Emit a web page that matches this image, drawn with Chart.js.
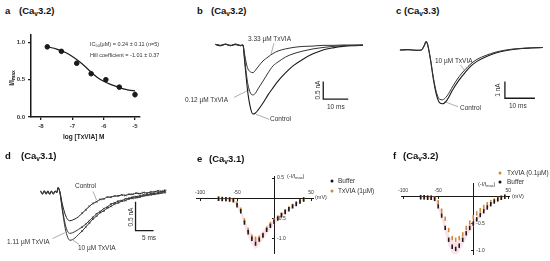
<!DOCTYPE html>
<html>
<head>
<meta charset="utf-8">
<script src="https://cdn.jsdelivr.net/npm/chart.js@4"></script>
<style>
  body { margin: 0; background: #fff; }
  #fig { position: relative; width: 550px; height: 261px; overflow: hidden; font-family: Arial, "Liberation Sans", sans-serif; color: #222; }
  #fig canvas { position: absolute; }
  .t { position: absolute; white-space: nowrap; line-height: 1; transform: translateY(-50%); }
  .ttl { font-weight: bold; font-size: 9.5px; color: #111; }
  .lbl { font-size: 6.5px; color: #333; }
  .sm { font-size: 5.5px; color: #333; }
  .rot { transform: translate(-50%, -50%) rotate(-90deg); }
  .dot { position: absolute; width: 3px; height: 3px; border-radius: 50%; transform: translate(-50%, -50%); }
  sub { font-size: 70%; vertical-align: -0.25em; line-height: 0; }
</style>
</head>
<body>
<div id="fig">
  <canvas id="chartA" width="150" height="120" style="left:0;top:28px"></canvas>
  <canvas id="chartB" width="185" height="105" style="left:185px;top:25px"></canvas>
  <canvas id="chartC" width="180" height="105" style="left:370px;top:25px"></canvas>
  <canvas id="chartD" width="185" height="101" style="left:0;top:160px"></canvas>
  <canvas id="chartE" width="185" height="96" style="left:185px;top:165px"></canvas>
  <canvas id="chartF" width="180" height="96" style="left:370px;top:165px"></canvas>

  <!-- panel titles -->
  <div class="t ttl" style="left:5px;top:11px">a</div>
  <div class="t ttl" style="left:19px;top:11px">(Ca<sub>v</sub>3.2)</div>
  <div class="t ttl" style="left:197px;top:11px">b</div>
  <div class="t ttl" style="left:211px;top:11px">(Ca<sub>v</sub>3.2)</div>
  <div class="t ttl" style="left:396px;top:11px">c</div>
  <div class="t ttl" style="left:404px;top:11px">(Ca<sub>v</sub>3.3)</div>
  <div class="t ttl" style="left:5px;top:156px">d</div>
  <div class="t ttl" style="left:21px;top:156px">(Ca<sub>v</sub>3.1)</div>
  <div class="t ttl" style="left:197px;top:159px">e</div>
  <div class="t ttl" style="left:209px;top:159px">(Ca<sub>v</sub>3.1)</div>
  <div class="t ttl" style="left:393px;top:156px">f</div>
  <div class="t ttl" style="left:403px;top:156px">(Ca<sub>v</sub>3.2)</div>

  <!-- a -->
  <div class="t sm" style="left:90px;top:45px">IC<sub>50</sub>(µM) = 0.24 ± 0.11 (n=5)</div>
  <div class="t sm" style="left:90px;top:56px">Hill coefficient = -1.01 ± 0.37</div>
  <div class="t rot" style="left:11px;top:78px;font-size:7px;font-weight:bold">I/I<sub>max</sub></div>
  <div class="t" style="left:63px;top:137px;font-size:6.5px;font-weight:bold">log [TxVIA] M</div>

  <!-- b -->
  <div class="t lbl" style="left:248px;top:39px">3.33 µM TxVIA</div>
  <div class="t lbl" style="left:185px;top:100px">0.12 µM TxVIA</div>
  <div class="t lbl" style="left:270px;top:119px">Control</div>
  <div class="t lbl rot" style="left:318px;top:90px">0.5 nA</div>
  <div class="t lbl" style="left:327px;top:107px">10 ms</div>

  <!-- c -->
  <div class="t lbl" style="left:435px;top:61px">10 µM TxVIA</div>
  <div class="t lbl" style="left:460px;top:108px">Control</div>
  <div class="t lbl rot" style="left:498px;top:90px">1 nA</div>
  <div class="t lbl" style="left:509px;top:106px">10 ms</div>

  <!-- d -->
  <div class="t lbl" style="left:75px;top:186px">Control</div>
  <div class="t lbl" style="left:7px;top:242px">1.11 µM TxVIA</div>
  <div class="t lbl" style="left:78px;top:248px">10 µM TxVIA</div>
  <div class="t lbl rot" style="left:131px;top:217px">0.5 nA</div>
  <div class="t lbl" style="left:142px;top:238px">5 ms</div>

  <!-- e -->
  <div class="t sm" style="left:287px;top:177px">(-I/I<sub>max</sub>)</div>
  <div class="t sm" style="left:315px;top:198px">(mV)</div>
  <div class="dot" style="left:332px;top:181px;background:#111"></div>
  <div class="t lbl" style="left:338px;top:181px">Buffer</div>
  <div class="dot" style="left:332px;top:191px;background:#d08a35"></div>
  <div class="t lbl" style="left:338px;top:191px">TxVIA (1µM)</div>

  <!-- f -->
  <div class="t sm" style="left:478px;top:185px">(-I/I<sub>max</sub>)</div>
  <div class="t sm" style="left:512px;top:197px">(mV)</div>
  <div class="dot" style="left:500px;top:173px;background:#d08a35"></div>
  <div class="t lbl" style="left:507px;top:173px">TxVIA (0.1µM)</div>
  <div class="dot" style="left:500px;top:182px;background:#111"></div>
  <div class="t lbl" style="left:507px;top:182px">Buffer</div>
</div>

<script>
// ---- data ----
// a: concentration-response
const aLogConc = [-7.8, -7.35, -6.86, -6.4, -5.93, -5.5, -5.0];
const aResp = [0.94, 0.88, 0.72, 0.58, 0.50, 0.40, 0.30];
const aSem = [0.01, 0.01, 0.03, 0.02, 0.03, 0.02, 0.04];
const aFitX = [-7.8, -7.5, -7.2, -7.0, -6.8, -6.6, -6.4, -6.2, -6.0, -5.8, -5.6, -5.4, -5.2, -5.0];
const aFitY = [0.94, 0.91, 0.86, 0.81, 0.75, 0.68, 0.60, 0.53, 0.48, 0.44, 0.41, 0.38, 0.36, 0.35];
const aTicksX = [-8, -7, -6, -5];
const aTicksY = [0, 0.5, 1.0];

// b: Cav3.2 current traces (ms, nA)
const bTime = [-11, -9, -7, -5, -3, -1, 0, 0.5, 1, 1.5, 2, 3, 4, 5, 6, 8, 10, 12, 14, 17, 20, 24, 28, 32, 36, 40, 44, 48];
const bControl = [0.02, -0.02, 0.03, -0.01, 0.02, -0.02, 0, -0.34, -0.71, -1.07, -1.38, -1.78, -1.95, -1.92, -1.84, -1.64, -1.41, -1.21, -1.02, -0.79, -0.59, -0.40, -0.25, -0.14, -0.08, -0.04, -0.02, -0.01];
const bLow = [0.01, -0.02, 0.02, -0.02, 0.03, -0.01, 0, -0.28, -0.62, -0.90, -1.13, -1.36, -1.41, -1.36, -1.24, -1.02, -0.79, -0.59, -0.48, -0.34, -0.25, -0.17, -0.11, -0.07, -0.04, -0.02, -0.01, 0];
const bHigh = [0.02, -0.01, 0.02, -0.02, 0.01, -0.02, 0, -0.20, -0.40, -0.57, -0.68, -0.76, -0.78, -0.71, -0.62, -0.45, -0.34, -0.24, -0.17, -0.11, -0.07, -0.04, -0.03, -0.01, -0.01, 0, 0, 0];

// c: Cav3.3 current traces (ms, nA)
const cTime = [-7.7, -5, -2, -0.5, 0.5, 1, 1.5, 2.5, 3.5, 4.5, 5.5, 6.5, 8, 10, 12, 14, 16, 18, 21, 24, 27, 30, 33, 36, 40];
const cControl = [0, 0.02, -0.02, 0, 0.3, 0.5, 0.35, -0.6, -1.8, -2.7, -3.15, -3.22, -3.0, -2.35, -1.8, -1.35, -0.95, -0.68, -0.4, -0.2, -0.06, 0.03, 0.09, 0.12, 0.15];
const cToxin = [0, 0.02, -0.02, 0, 0.3, 0.5, 0.35, -0.55, -1.7, -2.55, -2.95, -2.98, -2.75, -2.15, -1.6, -1.18, -0.82, -0.56, -0.32, -0.14, -0.02, 0.06, 0.1, 0.13, 0.15];

// d: Cav3.1 current traces (ms, nA)
const dTime = [-4.5, -4, -3.5, -3, -2.5, -2, -1.5, -1, -0.5, 0, 0.3, 0.8, 1.5, 2.3, 3, 3.6, 4.3, 5, 6, 7, 8, 9, 10, 11, 12, 13, 14, 15, 16, 17, 18, 19, 20, 21, 22, 23, 24, 25, 26, 27, 28, 29, 30];
const dControl = [0.02, -0.03, 0.03, -0.02, 0.03, -0.03, 0.02, -0.02, 0.03, 0, 0.09, 0.02, -0.2, -0.38, -0.47, -0.49, -0.48, -0.46, -0.42, -0.36, -0.30, -0.24, -0.19, -0.16, -0.12, -0.11, -0.08, -0.08, -0.06, -0.06, -0.04, -0.05, -0.03, -0.03, -0.01, -0.02, 0, -0.01, 0.01, 0.01, 0.03, 0.02, 0.04];
const dMid = [0.03, -0.02, 0.02, -0.03, 0.02, -0.02, 0.03, -0.03, 0.02, 0, 0.08, 0.01, -0.28, -0.55, -0.68, -0.71, -0.70, -0.68, -0.64, -0.60, -0.55, -0.49, -0.43, -0.37, -0.33, -0.28, -0.25, -0.20, -0.18, -0.15, -0.14, -0.11, -0.10, -0.08, -0.07, -0.06, -0.04, -0.04, -0.02, -0.02, 0, 0.01, 0.02];
const dHigh = [0.02, -0.02, 0.03, -0.02, 0.02, -0.03, 0.02, -0.02, 0.02, 0, 0.08, 0.01, -0.30, -0.62, -0.78, -0.83, -0.82, -0.79, -0.73, -0.67, -0.60, -0.53, -0.46, -0.41, -0.35, -0.32, -0.27, -0.24, -0.20, -0.18, -0.15, -0.14, -0.11, -0.10, -0.09, -0.08, -0.06, -0.05, -0.04, -0.03, -0.02, -0.01, 0];

// e: Cav3.1 I-V (mV, -I/Imax)
const eVolt = [-75, -70, -65, -60, -55, -50, -45, -40, -35, -30, -25, -20, -15, -10, -5, 0, 5, 10, 15, 20, 25, 30, 35, 40];
const eBuffer = [-0.01, -0.02, -0.02, -0.03, -0.05, -0.17, -0.32, -0.60, -0.84, -1.00, -1.12, -1.02, -0.92, -0.78, -0.68, -0.58, -0.50, -0.42, -0.34, -0.27, -0.20, -0.14, -0.08, -0.03];
const eToxin = [-0.01, -0.01, -0.02, -0.03, -0.04, -0.12, -0.28, -0.55, -0.78, -0.95, -1.00, -0.98, -0.90, -0.75, -0.64, -0.55, -0.47, -0.40, -0.32, -0.25, -0.19, -0.13, -0.08, -0.03];
const eErr = [0.02, 0.02, 0.02, 0.03, 0.04, 0.06, 0.08, 0.10, 0.12, 0.13, 0.13, 0.12, 0.11, 0.10, 0.09, 0.08, 0.06, 0.05, 0.04, 0.03, 0.03, 0.02, 0.02, 0.02];
const eTicksX = [-100, -50, 50];
const eTicksY = [0.5, -0.5, -1.0];

// f: Cav3.2 I-V (mV, -I/Imax)
const fVolt = [-75, -70, -65, -60, -55, -50, -45, -40, -35, -30, -25, -20, -15, -10, -5, 0, 5, 10, 15, 20, 25, 30, 35, 40, 45];
const fBuffer = [-0.01, -0.01, -0.02, -0.02, -0.04, -0.18, -0.35, -0.58, -0.80, -0.93, -0.97, -0.91, -0.80, -0.68, -0.58, -0.50, -0.42, -0.34, -0.27, -0.20, -0.14, -0.09, -0.05, -0.02, 0];
const fToxin = [-0.01, -0.01, -0.01, -0.02, -0.03, -0.10, -0.26, -0.41, -0.62, -0.77, -0.80, -0.77, -0.70, -0.58, -0.48, -0.38, -0.31, -0.25, -0.19, -0.14, -0.10, -0.07, -0.04, -0.02, 0];
const fErr = [0.02, 0.02, 0.02, 0.03, 0.04, 0.06, 0.08, 0.10, 0.11, 0.12, 0.12, 0.11, 0.10, 0.09, 0.08, 0.07, 0.05, 0.04, 0.03, 0.03, 0.02, 0.02, 0.02, 0.02, 0.02];
const fTicksX = [-100, -50, 50];
const fTicksY = [-0.5, -1.0];

// ---- setup ----
Chart.defaults.animation = false;
Chart.defaults.responsive = false;
Chart.defaults.devicePixelRatio = 1;
Chart.defaults.font.family = 'Arial, "Liberation Sans", sans-serif';
Chart.defaults.plugins.legend.display = false;
Chart.defaults.plugins.tooltip.enabled = false;

const ORANGE = '#d08a35';
const INK = '#1a1a1a';

function pairs(xs, ys) {
    return xs.map((x, i) => ({ x: x, y: ys[i] }));
}

function trace(xs, ys, color, width) {
    return {
        data: pairs(xs, ys), showLine: true, borderColor: color, borderWidth: width || 1,
        pointRadius: 0, cubicInterpolationMode: 'monotone'
    };
}

// straight segments (scale bars, label leaders)
function segment(xs, ys, color, width) {
    return { data: pairs(xs, ys), showLine: true, borderColor: color, borderWidth: width, pointRadius: 0, tension: 0 };
}

function traceChart(id, xMin, xMax, yMin, yMax, datasets) {
    return new Chart(document.getElementById(id), {
        type: 'scatter',
        data: { datasets: datasets },
        options: {
            layout: { padding: 0 },
            scales: {
                x: { type: 'linear', display: false, min: xMin, max: xMax },
                y: { type: 'linear', display: false, min: yMin, max: yMax }
            }
        }
    });
}

// y tick labels of a crossing axis sit on the right of the line
const rightTickLabels = {
    id: 'rightTickLabels',
    afterDraw(chart) {
        const xs = chart.scales.x, ys = chart.scales.y;
        const ctx = chart.ctx;
        const x0 = xs.getPixelForValue(0);
        ctx.save();
        ctx.font = '5px Arial, "Liberation Sans", sans-serif';
        ctx.fillStyle = '#333';
        ctx.textAlign = 'left';
        ctx.textBaseline = 'middle';
        ys.ticks.forEach(t => ctx.fillText(t.value.toFixed(1), x0 + 3, ys.getPixelForValue(t.value)));
        ctx.restore();
    }
};

// ---- a ----
new Chart(document.getElementById('chartA'), {
    type: 'scatter',
    data: {
        datasets: [
            { data: pairs(aFitX, aFitY), showLine: true, borderColor: INK, borderWidth: 1.2, pointRadius: 0, cubicInterpolationMode: 'monotone', order: 1 },
            { data: pairs(aLogConc, aResp), pointRadius: 2.3, backgroundColor: INK, borderColor: INK, order: 0 },
            // light error bars, drawn as thin floating bars behind the dots
            { type: 'bar', data: aLogConc.map((x, i) => ({ x: x, y: [aResp[i] - aSem[i], aResp[i] + aSem[i]] })), backgroundColor: '#bbb', barThickness: 1, order: 2 }
        ]
    },
    options: {
        layout: { padding: { top: 4, right: 10 } },
        scales: {
            x: {
                type: 'linear', min: -8.32, max: -4.84, offset: false,
                afterBuildTicks: s => { s.ticks = aTicksX.map(v => ({ value: v })); },
                ticks: { font: { size: 6, weight: 'bold' }, color: '#333', padding: 3 },
                grid: { drawOnChartArea: false, tickLength: 3, color: INK, lineWidth: 1.3, offset: false },
                border: { color: INK, width: 1.5 },
                afterFit: s => { s.height = 31; }
            },
            y: {
                type: 'linear', min: 0, max: 1.104,
                afterBuildTicks: s => { s.ticks = aTicksY.map(v => ({ value: v })); },
                ticks: { font: { size: 6, weight: 'bold' }, color: '#333', padding: 3, callback: v => v.toFixed(1) },
                grid: { drawOnChartArea: false, tickLength: 3, color: INK, lineWidth: 1.3 },
                border: { color: INK, width: 1.5 },
                afterFit: s => { s.width = 31; }
            }
        }
    }
});

// ---- b ----
traceChart('chartB', -23.2, 50.8, -2.401, 0.565, [
    trace(bTime, bHigh, '#333', 1),
    trace(bTime, bLow, '#333', 1),
    trace(bTime, bControl, INK, 1.1),
    segment([32.1, 32.1, 42.1], [-1.03, -1.53, -1.53], INK, 1.3),
    segment([12.4, 11.2], [0.05, -0.26], '#777', 0.6),
    segment([-3.6, 2.6], [-1.48, -1.26], '#777', 0.6),
    segment([5.2, 10.5], [-1.96, -2.1], '#777', 0.6)
]);

// ---- c ----
traceChart('chartC', -17.67, 42.33, -4.79, 1.497, [
    trace(cTime, cToxin, '#333', 1),
    trace(cTime, cControl, INK, 1.1),
    segment([27.3, 27.3, 37.3], [-1.89, -2.89, -2.89], INK, 1.3),
    segment([12.5, 13.8], [-0.9, -1.22], '#777', 0.6),
    segment([7.3, 11.7], [-3.1, -3.4], '#777', 0.6)
]);

// ---- d ----
const crossDots = c => (c.raw && c.raw.x > 6 ? 1.3 : 0);
const crossStyle = { pointRadius: crossDots, pointStyle: 'crossRot', pointBorderColor: '#333', pointBorderWidth: 0.7 };
traceChart('chartD', -14.47, 34.21, -1.109, 0.484, [
    Object.assign(trace(dTime, dHigh, '#333', 1), crossStyle),
    Object.assign(trace(dTime, dMid, '#333', 1), crossStyle),
    Object.assign(trace(dTime, dControl, INK, 1), crossStyle),
    segment([21.8, 21.8, 26.8], [-0.162, -0.662, -0.662], INK, 1.3),
    segment([10, 11], [0.02, -0.13], '#777', 0.6),
    segment([-1.2, 2.2], [-0.8, -0.7], '#777', 0.6),
    segment([4.5, 6.1], [-0.83, -0.9], '#777', 0.6)
]);

// ---- e, f: current-voltage ----
function ivChart(id, volts, buffer, toxin, errs, ticksX, ticksY, area, pad) {
    const upper = buffer.map((v, i) => v + errs[i]);
    const lower = buffer.map((v, i) => v - errs[i]);
    const marks = (ys, color, order) => ({
        data: pairs(volts, ys), pointStyle: 'line', rotation: 90, pointRadius: 2.2,
        borderColor: color, backgroundColor: color, borderWidth: 1.6, order: order
    });
    return new Chart(document.getElementById(id), {
        type: 'scatter',
        data: {
            datasets: [
                marks(buffer, INK, 1),
                marks(toxin, ORANGE, 2),
                { data: pairs(volts, upper), showLine: true, borderWidth: 0, pointRadius: 0, fill: false, order: 5, cubicInterpolationMode: 'monotone' },
                { data: pairs(volts, lower), showLine: true, borderWidth: 0, pointRadius: 0, fill: '-1', order: 6, backgroundColor: 'rgba(245,180,200,0.4)', cubicInterpolationMode: 'monotone' }
            ]
        },
        options: {
            layout: { padding: pad },
            scales: {
                x: {
                    type: 'linear', min: area[0], max: area[1], position: { y: 0 },
                    afterBuildTicks: s => { s.ticks = ticksX.map(v => ({ value: v })); },
                    ticks: { font: { size: 5 }, color: '#333', padding: -11 },
                    grid: { drawOnChartArea: false, tickLength: 2, color: INK },
                    border: { color: INK, width: 1 }
                },
                y: {
                    type: 'linear', min: area[2], max: area[3], position: { x: 0 },
                    afterBuildTicks: s => { s.ticks = ticksY.map(v => ({ value: v })); },
                    ticks: { display: false },
                    grid: { drawOnChartArea: false, tickLength: 2, color: INK },
                    border: { color: INK, width: 1 }
                }
            }
        },
        plugins: [rightTickLabels]
    });
}

ivChart('chartE', eVolt, eBuffer, eToxin, eErr, eTicksX, eTicksY, [-104.5, 53, -1.358, 0.533], { left: 11.7, right: 56.7, top: 11.7, bottom: 7.7 });
ivChart('chartF', fVolt, fBuffer, fToxin, fErr, fTicksX, fTicksY, [-103, 51, -1.065, 0.255], { left: 31, right: 41, top: 18, bottom: 7 });
</script>
</body>
</html>
